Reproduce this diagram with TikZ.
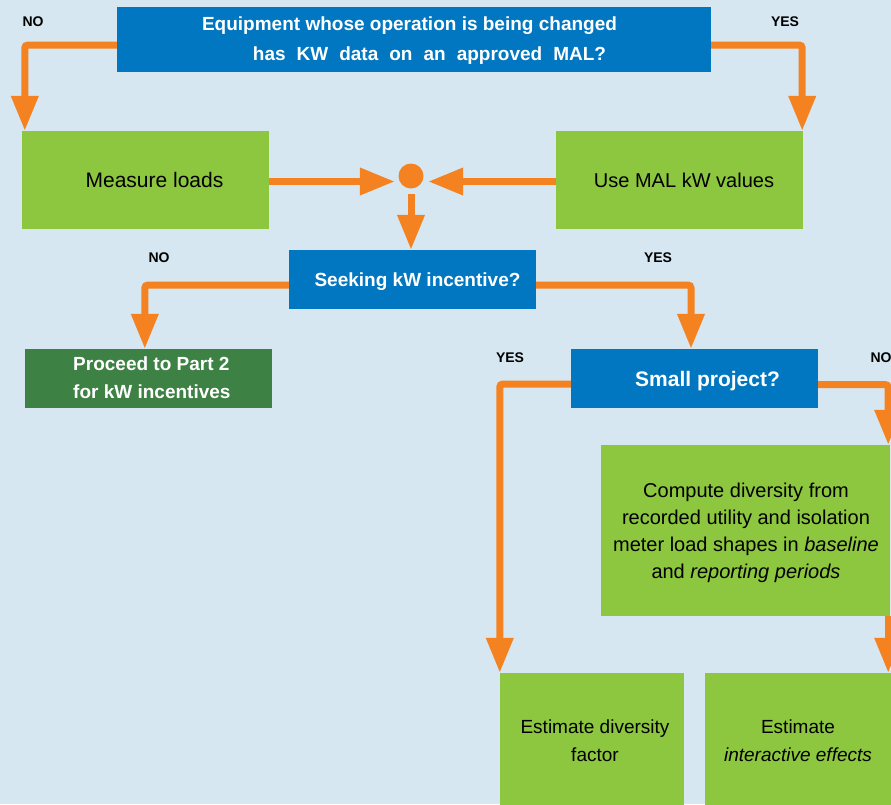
\documentclass[tikz,border=0pt]{standalone}
\usepackage{fontspec}
\setmainfont{Liberation Sans}
\usetikzlibrary{arrows.meta,calc}

\definecolor{bgblue}{HTML}{D6E7F1}
\definecolor{qblue}{HTML}{0077C0}
\definecolor{lgreen}{HTML}{8DC63F}
\definecolor{dgreen}{HTML}{3D8244}
\definecolor{flowor}{HTML}{F58220}

\tikzset{
  box/.style={inner sep=0pt, draw=none},
  qbox/.style={box, fill=qblue},
  gbox/.style={box, fill=lgreen},
  dbox/.style={box, fill=dgreen},
  qtxt/.style={inner sep=0pt, text=white, font=\bfseries\fontsize{19}{28}\selectfont, align=center},
  gtxt/.style={inner sep=0pt, text=black, font=\fontsize{21}{27}\selectfont, align=center},
  lbl/.style={inner sep=0pt, font=\bfseries\fontsize{14}{14}\selectfont},
  flow/.style={draw=flowor, line width=7pt, rounded corners=3pt,
    -{Triangle[length=35pt,width=26pt]}},
}

\begin{document}
\begin{tikzpicture}[x=1pt, y=-1pt]
  \useasboundingbox (0,0) rectangle (891,804);
  \fill[bgblue] (0,0) rectangle (891,804);
  \clip (0,0) rectangle (891,804);

  % boxes
  \node[qbox, minimum width=594pt, minimum height=65pt] (q1) at (414,39.5) {};
  \node[gbox, minimum width=247pt, minimum height=98pt] (ml) at (145.5,180) {};
  \node[gbox, minimum width=247pt, minimum height=98pt] (mal) at (679.5,180) {};
  \node[circle, fill=flowor, minimum size=25pt, inner sep=0pt] (dot) at (411,176) {};
  \node[qbox, minimum width=247pt, minimum height=59pt] (seek) at (412.5,279.5) {};
  \node[dbox, minimum width=247pt, minimum height=59pt] (proc) at (148.5,378.5) {};
  \node[qbox, minimum width=247pt, minimum height=59pt] (small) at (694.5,378.5) {};
  \node[gbox, minimum width=289pt, minimum height=171pt] (cd) at (745.5,530.5) {};
  \node[gbox, minimum width=184pt, minimum height=157pt] (ed) at (592,751.5) {};
  \node[gbox, minimum width=215pt, minimum height=157pt] (ie) at (812.5,751.5) {};

  % box texts
  \node[qtxt] (q1a) at (409.5,26) {Equipment whose operation is being changed};
  \node[qtxt] (q1b) at (429.5,56) {\spaceskip=11pt\relax has KW data on an approved MAL?};
  \node[gtxt] (mlt) at (154.5,180) {Measure loads};
  \node[gtxt, font=\fontsize{20}{27}\selectfont] (malt) at (684,180) {Use MAL kW values};
  \node[qtxt] (seekt) at (417.5,282) {Seeking kW incentive?};
  \node[qtxt, anchor=west, align=left] (proct) at (73,378) {Proceed to Part 2\\for kW incentives};
  \node[qtxt, font=\bfseries\fontsize{21}{28}\selectfont] (smallt) at (707.5,381) {Small project?};
  \node[gtxt, font=\fontsize{20}{27}\selectfont] (cdt) at (746,533)
    {Compute diversity from\\recorded utility and isolation\\meter load shapes in \textit{baseline}\\and \textit{reporting periods}};
  \node[gtxt, font=\fontsize{19}{28}\selectfont] (edt) at (595,741) {Estimate diversity\\factor};
  \node[gtxt, font=\fontsize{19}{28}\selectfont] (iet) at (798,741) {Estimate\\\textit{interactive effects}};

  % branch labels
  \node[lbl] (no1) at (33,22) {NO};
  \node[lbl] (yes1) at (785,22) {YES};
  \node[lbl] (no2) at (159,258) {NO};
  \node[lbl] (yes2) at (658,258) {YES};
  \node[lbl] (yes3) at (510,358) {YES};
  \node[lbl] (no3) at (881,358) {NO};

  % connectors
  \draw[flow] ($(q1.west)+(0,5.5)$) -| ($(ml.north west)+(3,0)$);
  \draw[flow] ($(q1.east)+(0,5.5)$) -| ($(mal.north east)+(-1,0)$);
  \draw[flow] ($(ml.east)+(0,1.5)$) -- ($(ml.east -| dot.west)+(-3.5,1.5)$);
  \draw[flow] ($(mal.west)+(0,1.5)$) -- ($(mal.west -| dot.east)+(4.5,1.5)$);
  \draw[flow] ($(dot.south)+(0,5.5)$) -- (dot.south |- seek.north);
  \draw[flow] ($(seek.west)+(0,5.5)$) -| ($(proc.north west)+(120,0)$);
  \draw[flow] ($(seek.east)+(0,5.5)$) -| ($(small.north)+(-3.5,0)$);
  \draw[flow] ($(small.west)+(0,5.5)$) -| (ed.north west);
  \draw[flow] ($(small.east)+(0,6)$) -| ($(cd.north east)+(-2,0)$);
  \coordinate (cdx) at ($(cd.south east)+(-2,0)$);
  \draw[flow] (cdx) -- (cdx |- ie.north);
\end{tikzpicture}
\end{document}
